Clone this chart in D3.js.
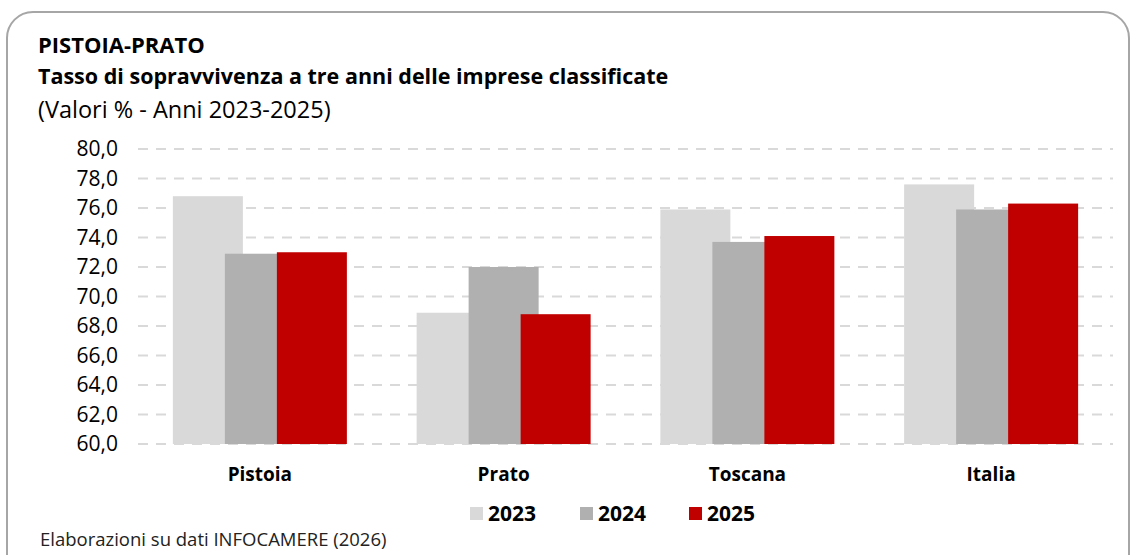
<!DOCTYPE html>
<html lang="it">
<head>
<meta charset="utf-8">
<title>Tasso di sopravvivenza</title>
<script src="https://d3js.org/d3.v7.min.js"></script>
<style>
  body { margin: 0; background: #fff; }
  svg { font-family: "Open Sans", "Noto Sans", sans-serif; }
</style>
</head>
<body>
<script>
// data
var categories = ["Pistoia", "Prato", "Toscana", "Italia"];
var years = ["2023", "2024", "2025"];
var values2023 = [76.8, 68.9, 75.9, 77.6];
var values2024 = [72.9, 72.0, 73.7, 75.9];
var values2025 = [73.0, 68.8, 74.1, 76.3];
var yTicks = [60, 62, 64, 66, 68, 70, 72, 74, 76, 78, 80];
var colors = ["#d9d9d9", "#b0b0b0", "#c00000"];

var w = 1134, h = 555;
var plotLeft = 138, plotRight = 1113, plotTop = 149, plotBottom = 444;

var svg = d3.select("body").append("svg")
  .attr("width", w)
  .attr("height", h);

// frame
svg.append("rect")
  .attr("x", 7).attr("y", 12)
  .attr("width", 1122).attr("height", 570)
  .attr("rx", 26).attr("ry", 26)
  .attr("fill", "#fff")
  .attr("stroke", "#a6a6a6")
  .attr("stroke-width", 2);

var x = d3.scaleBand().domain(categories).range([plotLeft, plotRight]);
var y = d3.scaleLinear().domain([60, 80]).range([plotBottom, plotTop]);

// grid
svg.append("g").selectAll("line")
  .data(yTicks)
  .enter().append("line")
  .attr("x1", plotLeft).attr("x2", plotRight)
  .attr("y1", function(d) { return y(d); })
  .attr("y2", function(d) { return y(d); })
  .attr("stroke", "#d9d9d9")
  .attr("stroke-width", 2)
  .attr("stroke-dasharray", "10,8");

// y axis labels
var yAxis = d3.axisLeft(y).tickValues(yTicks).tickSize(0).tickPadding(0)
  .tickFormat(function(d) { return d3.format(".1f")(d).replace(".", ","); });
var gy = svg.append("g").attr("transform", "translate(118,0)").call(yAxis);
gy.select(".domain").remove();
gy.selectAll("text").attr("font-size", 21).attr("fill", "#000")
  .attr("font-family", "'Open Sans', sans-serif");

// bars
var barW = 70, step = 52;
var series = [values2023, values2024, values2025];
series.forEach(function(vals, k) {
  svg.append("g").selectAll("rect")
    .data(vals)
    .enter().append("rect")
    .attr("x", function(d, i) { return x(categories[i]) + x.bandwidth() / 2 + (k - 1) * step - barW / 2; })
    .attr("y", function(d) { return y(d); })
    .attr("width", barW)
    .attr("height", function(d) { return y(60) - y(d); })
    .attr("fill", colors[k]);
});

// category labels
var xAxis = d3.axisBottom(x).tickSize(0).tickPadding(0);
var gx = svg.append("g").attr("transform", "translate(0,467)").call(xAxis);
gx.select(".domain").remove();
gx.selectAll("text").attr("font-size", 19).attr("font-weight", "bold").attr("fill", "#000")
  .attr("font-family", "'Open Sans', sans-serif");

// legend
var legendX = [470, 580, 689];
var lg = svg.append("g").selectAll("g")
  .data(years)
  .enter().append("g")
  .attr("transform", function(d, i) { return "translate(" + legendX[i] + ",507)"; });
lg.append("rect").attr("width", 13).attr("height", 13)
  .attr("fill", function(d, i) { return colors[i]; });
lg.append("text").attr("x", 18).attr("y", 14)
  .attr("font-size", 21).attr("font-weight", "bold").text(function(d) { return d; });

// titles
svg.append("text").attr("x", 38).attr("y", 53)
  .attr("font-size", 22).attr("font-weight", "bold").text("PISTOIA-PRATO");
svg.append("text").attr("x", 38).attr("y", 84)
  .attr("font-size", 21.5).attr("font-weight", "bold")
  .text("Tasso di sopravvivenza a tre anni delle imprese classificate");
svg.append("text").attr("x", 38).attr("y", 118)
  .attr("font-size", 23.5).text("(Valori % - Anni 2023-2025)");
svg.append("text").attr("x", 40).attr("y", 546)
  .attr("font-size", 18.5).attr("fill", "#222").text("Elaborazioni su dati INFOCAMERE (2026)");
</script>
</body>
</html>
